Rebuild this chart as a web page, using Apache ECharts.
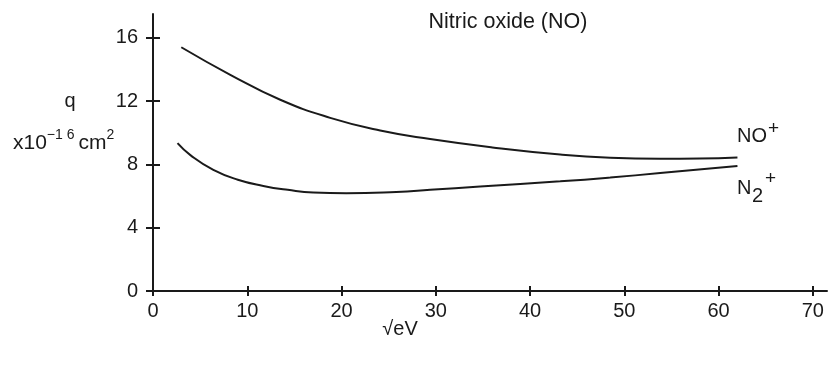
<!DOCTYPE html>
<html><head><meta charset="utf-8">
<script src="https://cdn.jsdelivr.net/npm/echarts@6/dist/echarts.min.js"></script>
<style>html,body{margin:0;padding:0;background:#fff}#c{width:829px;height:368px}</style>
</head><body><div id="c"></div>
<script>
// sqrt(eV) values and cross sections (x10^-16 cm^2)
const noEnergy = [3.0, 8.2, 13.5, 18.8, 24.1, 29.4, 36, 43.2, 48.5, 53.8, 58, 62];
const noCross  = [15.4, 13.66, 12.08, 10.94, 10.14, 9.6, 9.07, 8.62, 8.42, 8.36, 8.37, 8.44];
const n2Energy = [2.6, 4, 6.4, 9, 11.7, 14.3, 17, 20.5, 25.8, 29.4, 34.7, 43.2, 48.5, 53.8, 62];
const n2Cross  = [9.34, 8.57, 7.65, 7.03, 6.64, 6.39, 6.22, 6.18, 6.26, 6.39, 6.6, 6.93, 7.17, 7.45, 7.9];
const xTicks = [0, 10, 20, 30, 40, 50, 60, 70];
const yTicks = [0, 4, 8, 12, 16];
const titleText = 'Nitric oxide (NO)';
const xName = '√eV';

const FONT = '"Liberation Sans", Arial, sans-serif';
const INK = '#1a1a1a';
const X_MAX = 71.5, Y_MAX = 17.5;

const chart = echarts.init(document.getElementById('c'), null, {renderer: 'canvas'});
const lineStyle = {color: INK, width: 2};
function xAxisDef(inner) {
  return {
    type: 'value', gridIndex: 0, position: 'bottom', min: 0, max: X_MAX,
    axisLine: {show: !inner, onZero: false, lineStyle: lineStyle},
    axisTick: {show: true, inside: inner, length: 5, customValues: xTicks, lineStyle: lineStyle},
    axisLabel: {show: !inner, customValues: xTicks, margin: 10, fontSize: 20, color: INK, fontFamily: FONT},
    splitLine: {show: false}
  };
}
function yAxisDef(inner) {
  return {
    type: 'value', gridIndex: 0, position: 'left', min: 0, max: Y_MAX,
    axisLine: {show: !inner, onZero: false, lineStyle: lineStyle},
    axisTick: {show: true, inside: inner, length: 7, customValues: yTicks, lineStyle: lineStyle},
    axisLabel: {show: !inner, customValues: yTicks, margin: 15, fontSize: 20, color: INK, fontFamily: FONT},
    splitLine: {show: false}
  };
}
const option = {
  animation: false,
  backgroundColor: '#fff',
  grid: {left: 153, top: 14, right: 2, bottom: 77, containLabel: false},
  xAxis: [xAxisDef(false), xAxisDef(true)],
  yAxis: [yAxisDef(false), yAxisDef(true)],
  series: [
    {type: 'line', name: 'NO+', xAxisIndex: 0, yAxisIndex: 0, showSymbol: false, smooth: 0.5,
     lineStyle: {color: INK, width: 2}, data: noEnergy.map((x, i) => [x, noCross[i]])},
    {type: 'line', name: 'N2+', xAxisIndex: 0, yAxisIndex: 0, showSymbol: false, smooth: 0.5,
     lineStyle: {color: INK, width: 2}, data: n2Energy.map((x, i) => [x, n2Cross[i]])}
  ],
  graphic: [
    {type: 'text', style: {x: 508, y: 22, text: titleText, textAlign: 'center', textVerticalAlign: 'middle', font: '21.5px ' + FONT, fill: INK}},
    {type: 'text', style: {x: 400, y: 329, text: xName, textAlign: 'center', textVerticalAlign: 'middle', font: '20px ' + FONT, fill: INK}},
    {type: 'text', style: {x: 70, y: 101, text: 'q', textAlign: 'center', textVerticalAlign: 'middle', font: '20px ' + FONT, fill: INK}},
    {type: 'text', style: {x: 13, y: 141, textVerticalAlign: 'middle', text: '{a|x10}{s|−1 6 }{a|cm}{s|2}', fill: INK,
      rich: {a: {fontSize: 21, fontFamily: FONT, lineHeight: 26, verticalAlign: 'bottom'},
             s: {fontSize: 14, fontFamily: FONT, lineHeight: 26, verticalAlign: 'top'}}}},
    {type: 'text', style: {x: 737, y: 136, text: 'NO', textVerticalAlign: 'middle', font: '20px ' + FONT, fill: INK}},
    {type: 'text', style: {x: 768, y: 129, text: '+', textVerticalAlign: 'middle', font: '19px ' + FONT, fill: INK}},
    {type: 'text', style: {x: 737, y: 188, text: 'N', textVerticalAlign: 'middle', font: '20px ' + FONT, fill: INK}},
    {type: 'text', style: {x: 752, y: 196, text: '2', textVerticalAlign: 'middle', font: '20px ' + FONT, fill: INK}},
    {type: 'text', style: {x: 765, y: 179, text: '+', textVerticalAlign: 'middle', font: '19px ' + FONT, fill: INK}}
  ]
};
chart.setOption(option);
</script>
</body></html>
